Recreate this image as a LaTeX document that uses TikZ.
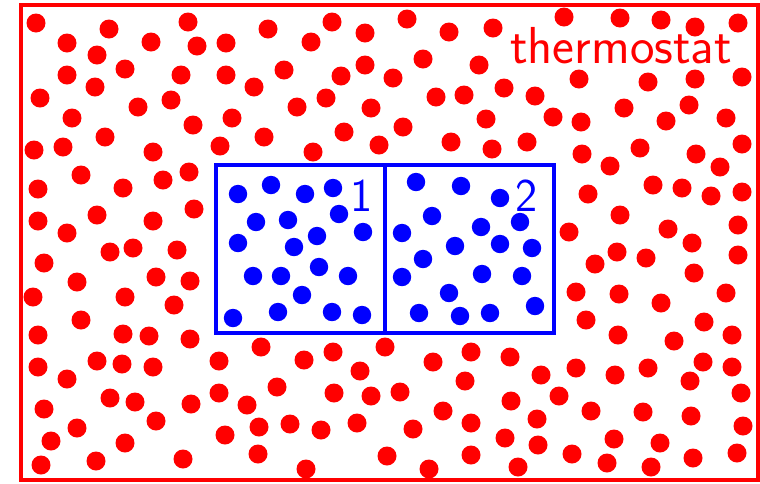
\documentclass[tikz,border=0pt]{standalone}
\usepackage{fontspec}
\usetikzlibrary{positioning}
\definecolor{bath}{HTML}{FF0000}
\definecolor{gas}{HTML}{0000FF}

\begin{document}
\begin{tikzpicture}[x=1pt, y=-1pt,
  font=\sffamily,
  bathdot/.style={fill=bath},
  gasdot/.style={fill=gas},
  wall/.style={draw=bath, line width=3.3pt},
  cell/.style={draw=gas, line width=4pt, minimum width=169pt, minimum height=168pt,
              inner sep=0pt, outer sep=0pt},
  tag/.style={font=\fontsize{47}{52}\selectfont\sffamily, inner sep=0pt, anchor=base}
]
  \useasboundingbox (0,0) rectangle (760,483);

  % Thermostat
  \draw[wall] (21,5) rectangle (758,480);
  \foreach \p in {(36,23),(67,43),(109,29),(97,55),(151,42),(188,22),(197,46),(226,43),
                  (67,75),(95,87),(125,69),(181,75),(226,75),(254,87),(40,98),(72,118),
                  (138,107),(171,100),(193,125),(232,118),(34,150),(63,147),(105,137),
                  (153,152),(220,146),(81,175),(163,180),(189,172),(38,189),(123,188),
                  (194,209),(38,221),(97,215),(153,221),(67,233),
                  (268,29),(311,42),(332,22),(365,33),(407,19),(449,32),(493,28),(284,70),
                  (341,76),(365,65),(393,78),(423,59),(479,65),(297,107),(326,98),(371,108),
                  (436,97),(464,95),(486,119),(264,137),(344,132),(403,127),(313,152),
                  (379,145),(451,142),(492,149),
                  (564,17),(620,18),(661,20),(695,27),(738,23),(504,88),(579,79),(648,82),
                  (695,79),(742,77),(535,96),(553,117),(581,122),(624,108),(666,121),
                  (689,105),(726,118),(527,142),(582,154),(640,148),(696,154),(742,144),
                  (610,166),(720,167),(588,194),(653,185),(682,188),(711,196),(742,192),
                  (620,215),(569,232),(668,229),(738,225),(692,243),
                  (44,263),(110,252),(133,248),(177,250),(77,282),(156,277),(190,281),
                  (33,297),(125,297),(174,305),(81,320),(38,335),(123,334),(149,336),
                  (190,339),(38,367),(97,361),(122,364),(153,367),(219,361),(67,379),
                  (110,398),(135,402),(191,404),(219,393),(247,405),(44,409),(77,428),
                  (156,421),(51,441),(125,443),(225,435),(41,465),(96,461),(183,459),
                  (261,347),(304,360),(333,352),(385,347),(360,371),(433,362),(471,352),
                  (277,387),(334,393),(371,396),(400,392),(465,381),(443,411),(259,427),
                  (290,424),(321,430),(357,423),(413,429),(471,423),(258,454),(387,456),
                  (471,455),(306,469),(429,469),
                  (617,252),(646,258),(595,264),(738,255),(694,273),(576,292),(619,294),
                  (661,303),(726,293),(586,320),(704,322),(618,335),(674,341),(732,335),
                  (510,357),(541,375),(576,368),(615,375),(648,368),(703,362),(732,367),
                  (690,381),(559,396),(511,401),(741,393),(591,411),(643,412),(691,416),
                  (537,419),(743,426),(505,438),(538,445),(614,439),(660,443),(572,454),
                  (737,453),(518,467),(607,463),(651,467),(693,458)}
    \fill[bathdot] \p circle (9.5);
  \node[tag, text=bath, font=\fontsize{52}{56}\selectfont\sffamily] (thermo) at (621,63) {thermostat};

  % Two systems
  \node[cell] (box1) at (300.5,249) {};
  \node[cell, right=0pt of box1] (box2) {};
  \foreach \p in {(238,194),(271,185),(305,194),(333,188),(256,222),(288,220),(339,214),
                  (317,236),(363,232),(238,243),(294,247),(253,276),(281,276),(319,267),
                  (348,276),(302,295),(278,312),(332,312),(362,315),(233,318)}
    \fill[gasdot] \p circle (9.2);
  \foreach \p in {(416,182),(461,186),(500,198),(432,216),(402,233),(481,227),(455,246),
                  (500,244),(520,222),(532,248),(423,259),(402,277),(482,274),(522,276),
                  (449,293),(419,313),(460,316),(490,313),(535,306)}
    \fill[gasdot] \p circle (9.2);
  \node[tag, text=gas] (lab1) at (362,211) {1};
  \node[tag, text=gas] (lab2) at (527,211) {2};
\end{tikzpicture}
\end{document}
